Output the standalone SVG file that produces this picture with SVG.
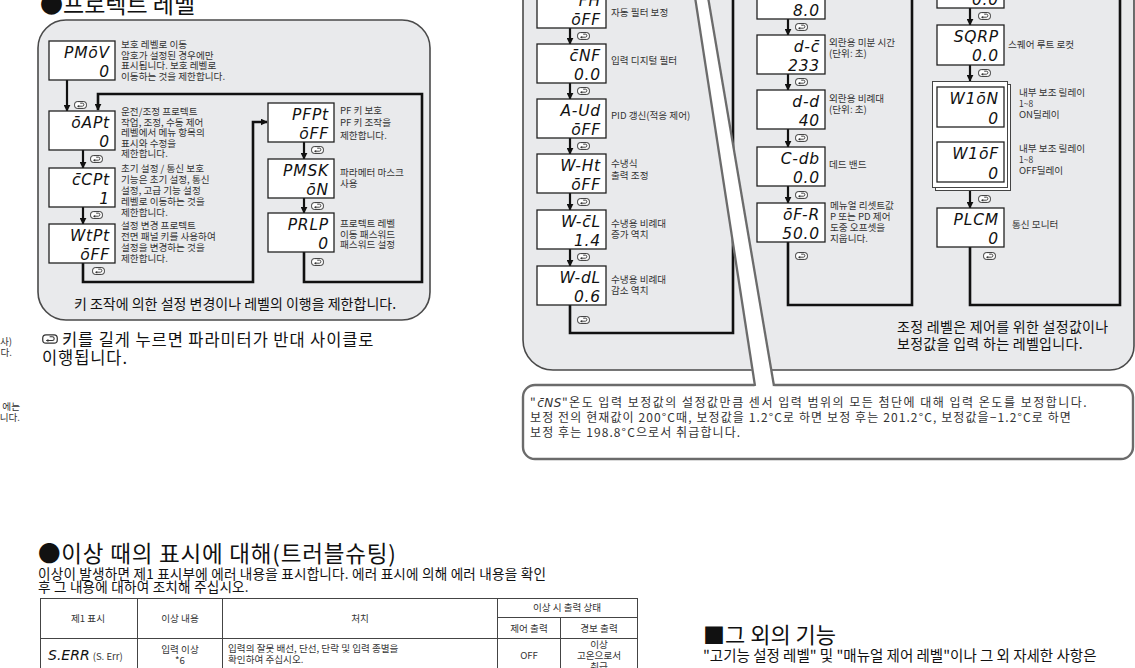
<svg xmlns="http://www.w3.org/2000/svg" xmlns:xlink="http://www.w3.org/1999/xlink" width="1135" height="668" viewBox="0 0 1135 668">
<defs>
<style>
.panel{fill:#e9eaec;stroke:#4a4a4a;stroke-width:1.6}
.box{fill:#fff;stroke:#222;stroke-width:1.3}
.seg{font-family:"DejaVu Sans",sans-serif;font-style:italic;font-size:15.5px;fill:#111;text-anchor:end;letter-spacing:0.8px}
.d{font-family:"Noto Sans CJK KR","Noto Sans",sans-serif;font-size:9.6px;fill:#333}
.s{font-size:8.5px}
.h{font-family:"Noto Sans CJK KR","Noto Sans",sans-serif;fill:#111}
.ln{fill:none;stroke:#111;stroke-width:2.6}
.ar{fill:none;stroke:#111;stroke-width:2.2}
.co{fill:none;stroke:#6b6b6b;stroke-width:2.3}
.tb{fill:none;stroke:#444;stroke-width:1}
.tc{text-anchor:middle}
</style>
<marker id="ah" viewBox="0 0 10 10" refX="9" refY="5" markerWidth="7" markerHeight="7" markerUnits="userSpaceOnUse" orient="auto"><path d="M0,0L10,5L0,10z" fill="#111"/></marker>
<symbol id="key" viewBox="0 0 13 8"><rect x="0.6" y="0.6" width="11.8" height="6.8" rx="2.6" fill="#fff" stroke="#333" stroke-width="1"/><path d="M3.6,5.2H8.4A1.5,1.5 0 0 0 8.4,2.2H6.2" fill="none" stroke="#333" stroke-width="0.9"/><path d="M5.2,3.9L3.2,5.2L5.2,6.5z" fill="#333"/></symbol>
</defs>

<!-- left edge fragments -->
<g id="fragments">
<text class="d" x="12" y="345" text-anchor="end" font-size="9">사)</text>
<text class="d" x="12" y="356" text-anchor="end" font-size="9">다.</text>
<text class="d" x="20" y="410" text-anchor="end" font-size="9">에는</text>
<text class="d" x="20" y="421" text-anchor="end" font-size="9">니다.</text>
</g>

<!-- ============ PROTECT LEVEL ============ -->
<text class="h" x="40" y="13" font-size="23">●프로텍트 레벨</text>
<rect id="protect-panel" class="panel" x="38" y="20" width="392" height="300" rx="28"/>

<g id="connectors-protect">
<line class="ar" x1="67" y1="80" x2="67" y2="111" marker-end="url(#ah)"/>
<path class="ln" d="M304,252V282H422V94H98V110" marker-end="url(#ah)"/>
<line class="ar" x1="83" y1="150" x2="83" y2="168" marker-end="url(#ah)"/>
<line class="ar" x1="83" y1="207" x2="83" y2="224" marker-end="url(#ah)"/>
<path class="ln" d="M83,263V282H253V122H267" marker-end="url(#ah)"/>
<line class="ar" x1="304" y1="142" x2="304" y2="159" marker-end="url(#ah)"/>
<line class="ar" x1="304" y1="198" x2="304" y2="213" marker-end="url(#ah)"/>
<use href="#key" x="74" y="101" width="13" height="8"/>
<use href="#key" x="90" y="155" width="13" height="8"/>
<use href="#key" x="90" y="211" width="13" height="8"/>
<use href="#key" x="92" y="267" width="13" height="8"/>
<use href="#key" x="311" y="146" width="13" height="8"/>
<use href="#key" x="311" y="202" width="13" height="8"/>
<use href="#key" x="311" y="258" width="13" height="8"/>
</g>

<g id="n-pmov">
<rect class="box" x="49" y="41" width="66" height="39"/>
<text class="seg" x="110" y="57.5">PMōV</text><text class="seg" x="110" y="76.5">0</text>
<text class="d" x="121" y="48">보호 레벨로 이동</text>
<text class="d" x="121" y="58.5">암호가 설정된 경우에만</text>
<text class="d" x="121" y="69">표시됩니다. 보호 레벨로</text>
<text class="d" x="121" y="79.5">이동하는 것을 제한합니다.</text>
</g>
<g id="n-oapt">
<rect class="box" x="49" y="111" width="66" height="39"/>
<text class="seg" x="110" y="127.5">ōAPt</text><text class="seg" x="110" y="146.5">0</text>
<text class="d" x="121" y="115">운전/조정 프로텍트</text>
<text class="d" x="121" y="125.5">작업, 조정, 수동 제어</text>
<text class="d" x="121" y="136">레벨에서 메뉴 항목의</text>
<text class="d" x="121" y="146.5">표시와 수정을</text>
<text class="d" x="121" y="157">제한합니다.</text>
</g>
<g id="n-icpt">
<rect class="box" x="49" y="168" width="66" height="39"/>
<text class="seg" x="110" y="184.5">c̄CPt</text><text class="seg" x="110" y="203.5">1</text>
<text class="d" x="121" y="172">초기 설정 / 통신 보호</text>
<text class="d" x="121" y="183">기능은 초기 설정, 통신</text>
<text class="d" x="121" y="194">설정, 고급 기능 설정</text>
<text class="d" x="121" y="205">레벨로 이동하는 것을</text>
<text class="d" x="121" y="216">제한합니다.</text>
</g>
<g id="n-wtpt">
<rect class="box" x="49" y="224" width="66" height="39"/>
<text class="seg" x="110" y="240.5">WtPt</text><text class="seg" x="110" y="259.5">ōFF</text>
<text class="d" x="121" y="229">설정 변경 프로텍트</text>
<text class="d" x="121" y="240">전면 패널 키를 사용하여</text>
<text class="d" x="121" y="251">설정을 변경하는 것을</text>
<text class="d" x="121" y="262">제한합니다.</text>
</g>
<g id="n-pfpt">
<rect class="box" x="268" y="103" width="66" height="39"/>
<text class="seg" x="329" y="119.5">PFPt</text><text class="seg" x="329" y="138.5">ōFF</text>
<text class="d" x="340" y="114">PF 키 보호</text>
<text class="d" x="340" y="126">PF 키 조작을</text>
<text class="d" x="340" y="139">제한합니다.</text>
</g>
<g id="n-pmsk">
<rect class="box" x="268" y="159" width="66" height="39"/>
<text class="seg" x="329" y="175.5">PMSK</text><text class="seg" x="329" y="194.5">ōN</text>
<text class="d" x="340" y="176">파라메터 마스크</text>
<text class="d" x="340" y="187">사용</text>
</g>
<g id="n-prlp">
<rect class="box" x="268" y="213" width="66" height="39"/>
<text class="seg" x="329" y="229.5">PRLP</text><text class="seg" x="329" y="248.5">0</text>
<text class="d" x="340" y="227">프로텍트 레벨</text>
<text class="d" x="340" y="237.5">이동 패스워드</text>
<text class="d" x="340" y="248">패스워드 설정</text>
</g>
<text class="h tc" x="235" y="309" font-size="14" fill="#222">키 조작에 의한 설정 변경이나 레벨의 이행을 제한합니다.</text>

<g id="note-key">
<use href="#key" x="42" y="334" width="16" height="10"/>
<text class="h" x="62" y="346" font-size="16.5" fill="#222" letter-spacing="0.9">키를 길게 누르면 파라미터가 반대 사이클로</text>
<text class="h" x="42" y="364" font-size="16.5" fill="#222" letter-spacing="0.9">이행됩니다.</text>
</g>

<!-- ============ ADJUST LEVEL ============ -->
<path id="adjust-panel" class="panel" d="M523,-30V340A30,30 0 0 0 553,370H1110A24,24 0 0 0 1134,346V-30Z"/>

<g id="connectors-adjust">
<line class="ar" x1="570" y1="28" x2="570" y2="44" marker-end="url(#ah)"/>
<line class="ar" x1="570" y1="83" x2="570" y2="99" marker-end="url(#ah)"/>
<line class="ar" x1="570" y1="138" x2="570" y2="154" marker-end="url(#ah)"/>
<line class="ar" x1="570" y1="193" x2="570" y2="210" marker-end="url(#ah)"/>
<line class="ar" x1="570" y1="249" x2="570" y2="266" marker-end="url(#ah)"/>
<path class="ln" d="M570,305V333H733V-5"/>
<use href="#key" x="577" y="32" width="13" height="8"/>
<use href="#key" x="577" y="87" width="13" height="8"/>
<use href="#key" x="577" y="142" width="13" height="8"/>
<use href="#key" x="577" y="198" width="13" height="8"/>
<use href="#key" x="577" y="253" width="13" height="8"/>
<use href="#key" x="577" y="316" width="13" height="8"/>

<line class="ar" x1="788" y1="19" x2="788" y2="35" marker-end="url(#ah)"/>
<line class="ar" x1="788" y1="74" x2="788" y2="90" marker-end="url(#ah)"/>
<line class="ar" x1="788" y1="129" x2="788" y2="147" marker-end="url(#ah)"/>
<line class="ar" x1="788" y1="186" x2="788" y2="203" marker-end="url(#ah)"/>
<path class="ln" d="M788,242V305H912V-5"/>
<use href="#key" x="795" y="23" width="13" height="8"/>
<use href="#key" x="795" y="78" width="13" height="8"/>
<use href="#key" x="795" y="134" width="13" height="8"/>
<use href="#key" x="795" y="191" width="13" height="8"/>
<use href="#key" x="795" y="252" width="13" height="8"/>

<line class="ar" x1="970" y1="8" x2="970" y2="25" marker-end="url(#ah)"/>
<line class="ar" x1="970" y1="65" x2="970" y2="81" marker-end="url(#ah)"/>
<line class="ar" x1="970" y1="127" x2="970" y2="142" marker-end="url(#ah)"/>
<line class="ar" x1="970" y1="190" x2="970" y2="208" marker-end="url(#ah)"/>
<path class="ln" d="M970,247V305H1120V-5"/>
<use href="#key" x="978" y="12" width="13" height="8"/>
<use href="#key" x="978" y="69" width="13" height="8"/>
<use href="#key" x="978" y="130" width="13" height="8"/>
<use href="#key" x="978" y="195" width="13" height="8"/>
<use href="#key" x="983" y="252" width="13" height="8"/>
</g>

<!-- column 1 -->
<g id="n-fh">
<rect class="box" x="537" y="-11" width="69" height="39"/>
<text class="seg" x="601" y="5.5">FH</text><text class="seg" x="601" y="24.5">ōFF</text>
<text class="d" x="611" y="16">자동 필터 보정</text>
</g>
<g id="n-inf">
<rect class="box" x="537" y="44" width="69" height="39"/>
<text class="seg" x="601" y="60.5">c̄NF</text><text class="seg" x="601" y="79.5">0.0</text>
<text class="d" x="611" y="64">입력 디지털 필터</text>
</g>
<g id="n-aud">
<rect class="box" x="537" y="99" width="69" height="39"/>
<text class="seg" x="601" y="115.5">A-Ud</text><text class="seg" x="601" y="134.5">ōFF</text>
<text class="d" x="611" y="119">PID 갱신(적응 제어)</text>
</g>
<g id="n-wht">
<rect class="box" x="537" y="154" width="69" height="39"/>
<text class="seg" x="601" y="170.5">W-Ht</text><text class="seg" x="601" y="189.5">ōFF</text>
<text class="d" x="611" y="167">수냉식</text>
<text class="d" x="611" y="179">출력 조정</text>
</g>
<g id="n-wcl">
<rect class="box" x="537" y="210" width="69" height="39"/>
<text class="seg" x="601" y="226.5">W-c̄L</text><text class="seg" x="601" y="245.5">1.4</text>
<text class="d" x="611" y="227">수냉용 비례대</text>
<text class="d" x="611" y="238">증가 역치</text>
</g>
<g id="n-wdl">
<rect class="box" x="537" y="266" width="69" height="39"/>
<text class="seg" x="601" y="282.5">W-dL</text><text class="seg" x="601" y="301.5">0.6</text>
<text class="d" x="611" y="283">수냉용 비례대</text>
<text class="d" x="611" y="294">감소 역치</text>
</g>

<!-- column 2 -->
<g id="n-c2top">
<rect class="box" x="757" y="-21" width="68" height="40"/>
<text class="seg" x="820" y="15.5">8.0</text>
</g>
<g id="n-dt">
<rect class="box" x="757" y="35" width="68" height="39"/>
<text class="seg" x="820" y="51.5">d-c̄</text><text class="seg" x="820" y="70.5">233</text>
<text class="d" x="829" y="46">외란용 미분 시간</text>
<text class="d" x="829" y="57">(단위: 초)</text>
</g>
<g id="n-dd">
<rect class="box" x="757" y="90" width="68" height="39"/>
<text class="seg" x="820" y="106.5">d-d</text><text class="seg" x="820" y="125.5">40</text>
<text class="d" x="829" y="102">외란용 비례대</text>
<text class="d" x="829" y="113">(단위: 초)</text>
</g>
<g id="n-cdb">
<rect class="box" x="757" y="147" width="68" height="39"/>
<text class="seg" x="820" y="163.5">C-db</text><text class="seg" x="820" y="182.5">0.0</text>
<text class="d" x="829" y="168">데드 밴드</text>
</g>
<g id="n-ofr">
<rect class="box" x="757" y="203" width="68" height="39"/>
<text class="seg" x="820" y="219.5">ōF-R</text><text class="seg" x="820" y="238.5">50.0</text>
<text class="d" x="830" y="209">메뉴얼 리셋트값</text>
<text class="d" x="830" y="220">P 또는 PD 제어</text>
<text class="d" x="830" y="231">도중 오프셋을</text>
<text class="d" x="830" y="242">지웁니다.</text>
</g>

<!-- column 3 -->
<g id="n-c3top">
<rect class="box" x="937" y="-31" width="67" height="39"/>
<text class="seg" x="999" y="5">0.0</text>
</g>
<g id="n-sqrp">
<rect class="box" x="937" y="25" width="67" height="40"/>
<text class="seg" x="999" y="41.5">SQRP</text><text class="seg" x="999" y="60.5">0.0</text>
<text class="d" x="1008" y="48" font-size="10.2">스퀘어 루트 로컷</text>
</g>
<g id="n-stack">
<rect x="935.5" y="84.5" width="75" height="106" fill="#fff" stroke="#444" stroke-width="1"/>
<rect x="932.5" y="81.5" width="75" height="106" fill="#fff" stroke="#444" stroke-width="1"/>
</g>
<g id="n-w1on">
<rect class="box" x="937" y="87" width="67" height="40"/>
<text class="seg" x="999" y="103.5">W1ōN</text><text class="seg" x="999" y="123.5">0</text>
<text class="d" x="1019" y="96" font-size="10.2">내부 보조 릴레이</text>
<text class="d s" x="1019" y="107">1~8</text>
<text class="d" x="1019" y="118">ON딜레이</text>
</g>
<g id="n-w1of">
<rect class="box" x="937" y="142" width="67" height="40"/>
<text class="seg" x="999" y="158.5">W1ōF</text><text class="seg" x="999" y="178.5">0</text>
<text class="d" x="1019" y="152" font-size="10.2">내부 보조 릴레이</text>
<text class="d s" x="1019" y="163">1~8</text>
<text class="d" x="1019" y="174">OFF딜레이</text>
</g>
<g id="n-plcm">
<rect class="box" x="937" y="208" width="67" height="39"/>
<text class="seg" x="999" y="224.5">PLCM</text><text class="seg" x="999" y="243.5">0</text>
<text class="d" x="1012" y="228" font-size="10.2">통신 모니터</text>
</g>
<text class="h" x="897" y="332" font-size="14" fill="#222" letter-spacing="0.3">조정 레벨은 제어를 위한 설정값이나</text>
<text class="h" x="897" y="349" font-size="14" fill="#222" letter-spacing="0.3">보정값을 입력 하는 레벨입니다.</text>

<!-- callout note -->
<g id="n-note">
<rect x="523" y="385" width="610" height="74" rx="12" fill="#fff" stroke="#6b6b6b" stroke-width="2.4"/>
<polygon points="695,-3 708,-3 774.5,388 754.5,388" fill="#fff"/>
<line class="co" x1="695" y1="-3" x2="755" y2="386"/>
<line class="co" x1="708" y1="-3" x2="774" y2="386"/>
<g font-family="Noto Sans CJK KR, Noto Sans, sans-serif" font-size="12" fill="#333">
<text x="530" y="407" letter-spacing="1.5">"<tspan font-family="DejaVu Sans" font-style="italic" letter-spacing="0.5">c̄NS</tspan>"온도 입력 보정값의 설정값만큼 센서 입력 범위의 모든 첨단에 대해 입력 온도를 보정합니다.</text>
<text x="530" y="422" letter-spacing="1.1">보정 전의 현재값이 200°C때, 보정값을 1.2°C로 하면 보정 후는 201.2°C, 보정값을−1.2°C로 하면</text>
<text x="530" y="437" letter-spacing="1.1">보정 후는 198.8°C으로서 취급합니다.</text>
</g>
</g>

<!-- ============ TROUBLESHOOTING ============ -->
<g id="trouble">
<text class="h" x="38" y="562" font-size="22.5" letter-spacing="0.8">●이상 때의 표시에 대해(트러블슈팅)</text>
<text class="h" x="38" y="579" font-size="13.6" fill="#222" letter-spacing="0.2">이상이 발생하면 제1 표시부에 에러 내용을 표시합니다. 에러 표시에 의해 에러 내용을 확인</text>
<text class="h" x="38" y="592" font-size="13.6" fill="#222" letter-spacing="0.2">후 그 내용에 대하여 조치해 주십시오.</text>
<rect class="tb" x="40.5" y="598.5" width="597" height="80"/>
<path class="tb" d="M137.5,598.5V678M222.5,598.5V678M497.5,598.5V678M560.5,617.5V678M497.5,617.5H637.5M40.5,638.5H637.5"/>
<text class="d tc" x="88" y="622" font-size="10">제1 표시</text>
<text class="d tc" x="180" y="622" font-size="10">이상 내용</text>
<text class="d tc" x="360" y="622" font-size="10">처치</text>
<text class="d tc" x="567" y="611" font-size="10">이상 시 출력 상태</text>
<text class="d tc" x="529" y="632" font-size="10">제어 출력</text>
<text class="d tc" x="599" y="632" font-size="10">경보 출력</text>
<text x="48" y="660"><tspan font-family="DejaVu Sans" font-style="italic" font-size="14" fill="#111">S.ERR</tspan><tspan class="d" dx="3" font-size="10">(S. Err)</tspan></text>
<text class="d tc" x="180" y="653" font-size="9.6">입력 이상</text>
<text class="d tc" x="180" y="664" font-size="8">*6</text>
<text class="d" x="228" y="652" font-size="9.6">입력의 잘못 배선, 단선, 단락 및 입력 종별을</text>
<text class="d" x="228" y="663" font-size="9.6">확인하여 주십시오.</text>
<text class="d tc" x="529" y="659" font-size="10">OFF</text>
<text class="d tc" x="599" y="648" font-size="9.6">이상</text>
<text class="d tc" x="599" y="659" font-size="9.6">고온으로서</text>
<text class="d tc" x="599" y="670" font-size="9.6">취급</text>
</g>

<g id="other">
<text class="h" x="703" y="643" font-size="22">■그 외의 기능</text>
<text class="h" x="703" y="661" font-size="14.5" fill="#222">"고기능 설정 레벨" 및 "매뉴얼 제어 레벨"이나 그 외 자세한 사항은</text>
</g>
</svg>
